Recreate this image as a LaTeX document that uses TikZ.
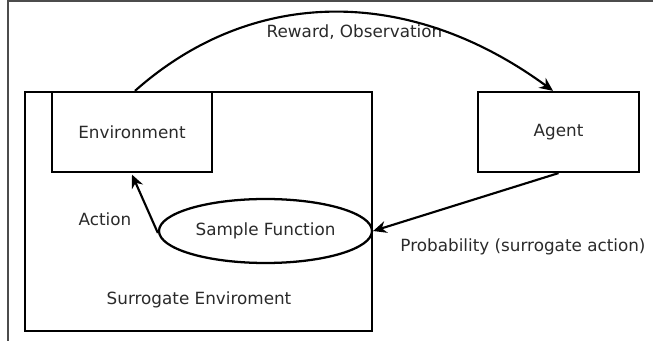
\documentclass[tikz,border=0pt]{standalone}
\usepackage{fontspec}
\setmainfont{DejaVu Sans}
\usetikzlibrary{arrows.meta,shapes.geometric}
\definecolor{txt}{HTML}{2A2A2A}
\begin{document}
\begin{tikzpicture}[x=0.75pt,y=-0.75pt,
  every node/.style={font=\fontsize{12.6}{15}\selectfont, text=txt},
  boxnode/.style={draw=black, line width=1.7pt, minimum width=160*0.75pt, minimum height=80*0.75pt, inner sep=0pt},
  ovalnode/.style={ellipse, draw=black, line width=1.7pt, minimum width=213*0.75pt, minimum height=64*0.75pt, inner sep=0pt},
  conn/.style={line width=1.6pt, -{Stealth[length=10pt,width=9pt]}},
  lbl/.style={inner sep=0pt}]
\useasboundingbox (0,0) rectangle (653,341);
\draw[gray!60!black, line width=1.1pt] (8,341) -- (8,1) -- (653,1);
% surrogate environment box
\node[draw=black, line width=1.7pt, minimum width=347*0.75pt, minimum height=239*0.75pt, inner sep=0pt] (sur) at (198.5,211.5) {};
\node[boxnode] (env) at (132,132) {Environment};
\node[boxnode, minimum width=161*0.75pt] (agent) at (558.5,132) {Agent};
\node[ovalnode] (sf) at (265.5,231) {Sample Function};
\node[lbl] (act) at (105,219) {Action};
\node[lbl] (surl) at (199,300) {Surrogate Enviroment};
\node[lbl] (prob) at (523,247) {Probability (surrogate action)};
\node[lbl] (rew) at (354.5,32) {Reward, Observation};
% connectors
\draw[conn] ([xshift=3*0.75pt]env.north) .. controls (253,-14) and (410,-14) .. ([xshift=-5.5*0.75pt]agent.north);
\draw[conn] (agent.south) -- (sf.east);
\draw[conn] ([yshift=-2*0.75pt]sf.west) -- ([yshift=-1.5*0.75pt]env.south);
\end{tikzpicture}
\end{document}
